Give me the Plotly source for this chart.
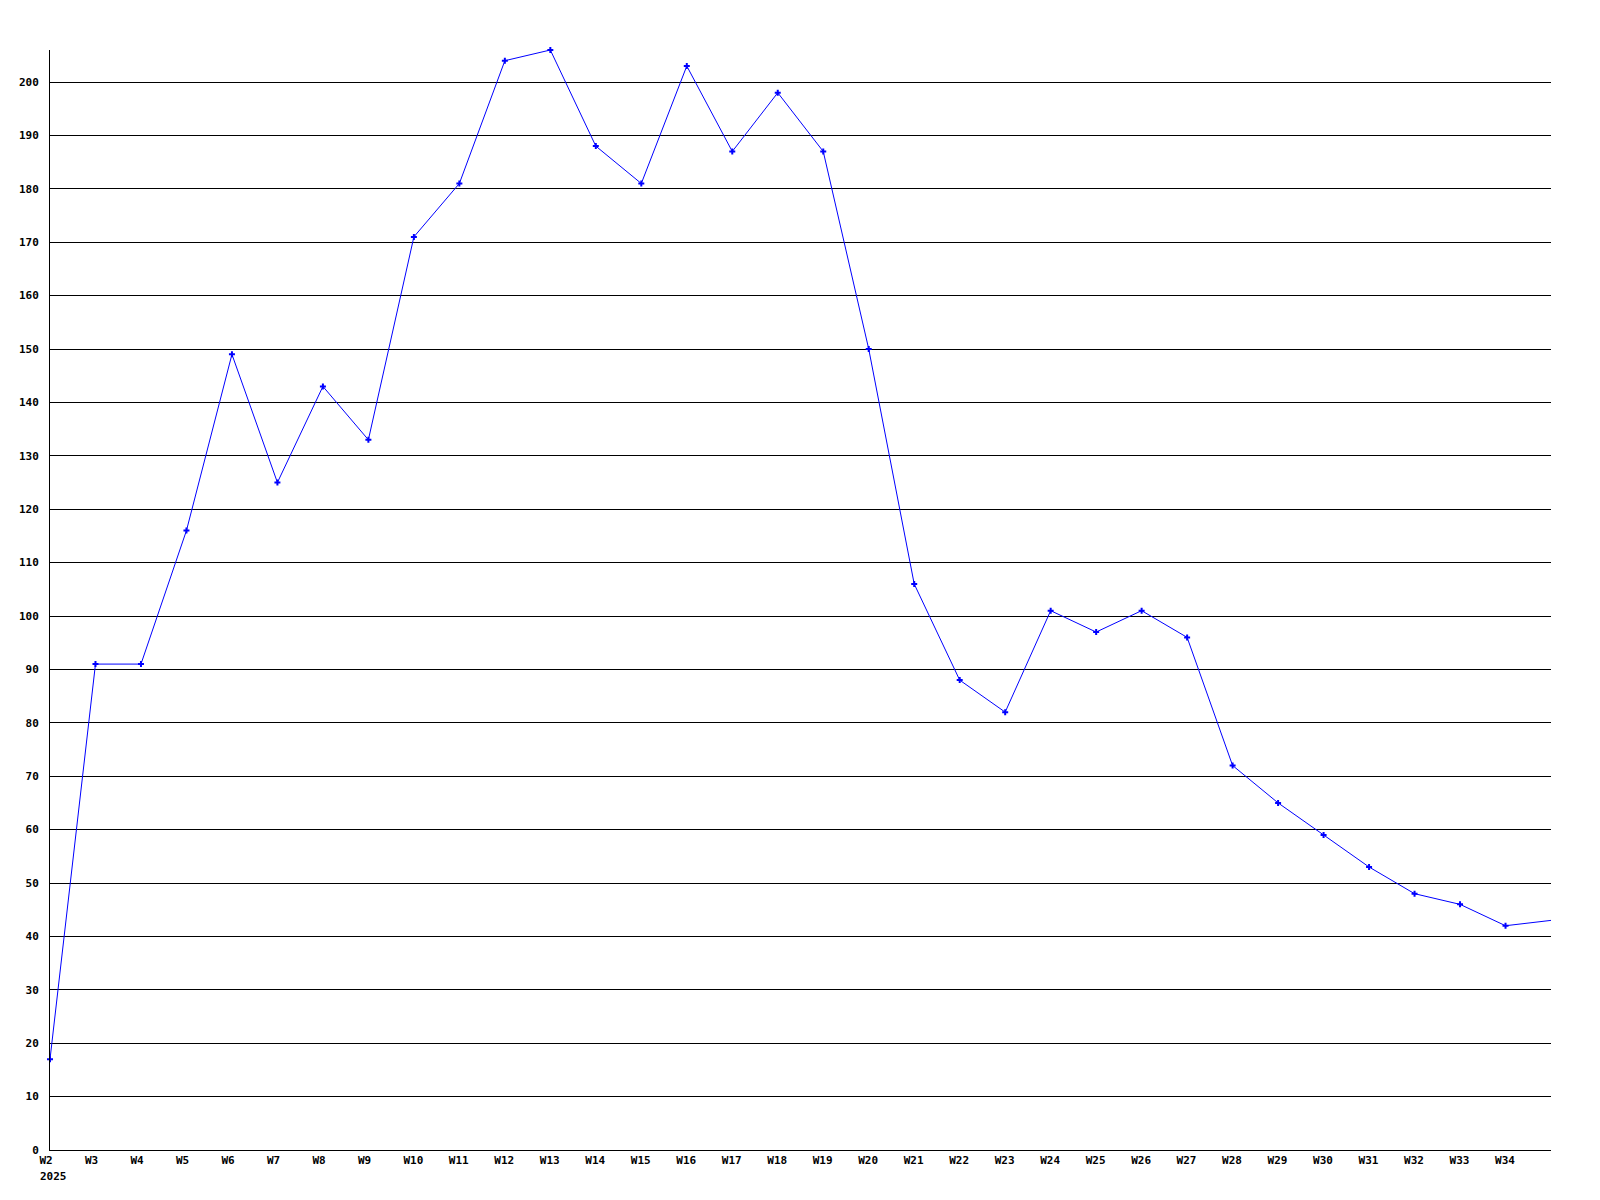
import plotly.graph_objects as go

weeks = [f"W{i}" for i in range(2, 36)]
values = [17, 91, 91, 116, 149, 125, 143, 133, 171, 181, 204, 206, 188, 181, 203, 187,
          198, 187, 150, 106, 88, 82, 101, 97, 101, 96, 72, 65, 59, 53, 48, 46, 42, 43]
tick_labels = [f"W{i}" for i in range(2, 35)]
y_ticks = list(range(0, 201, 10))
year_label = "2025"

fig = go.Figure()
fig.add_trace(go.Scatter(
    x=weeks, y=values, mode="lines",
    line=dict(color="#0000ff", width=1),
    cliponaxis=False, hoverinfo="x+y",
))
# the last (partial) week at the right edge is drawn without a marker
fig.add_trace(go.Scatter(
    x=weeks[:-1], y=values[:-1], mode="markers",
    marker=dict(symbol="cross", size=5, color="#0000ff"),
    cliponaxis=False, hoverinfo="skip",
))

fig.update_layout(
    width=1600, height=1200,
    margin=dict(l=42, r=57, t=42, b=58, autoexpand=False),
    paper_bgcolor="white", plot_bgcolor="white",
    showlegend=False,
    font=dict(family="DejaVu Sans Mono", size=11, color="black", weight="bold"),
    xaxis=dict(
        type="category", categoryorder="array", categoryarray=weeks,
        range=[0, len(weeks) - 1],
        tickmode="array", tickvals=tick_labels, ticktext=tick_labels,
        showgrid=False, zeroline=False,
        showline=True, linecolor="black", linewidth=1,
        ticks="", ticklabelstandoff=0,
        ticklabelposition="outside right", ticklabelshift=-11,
    ),
    yaxis=dict(
        range=[0, 206], tickmode="array", tickvals=y_ticks,
        showgrid=True, gridcolor="black", gridwidth=1,
        zeroline=False, showline=True, linecolor="black", linewidth=1,
        ticks="", ticklabelstandoff=8,
    ),
    annotations=[dict(
        x=weeks[0], y=0, xref="x", yref="y", text=year_label,
        showarrow=False, xanchor="left", yanchor="top",
        xshift=-12, yshift=-18,
        font=dict(family="DejaVu Sans Mono", size=11, color="black", weight="bold"),
    )],
)

fig.write_html("out.html")
